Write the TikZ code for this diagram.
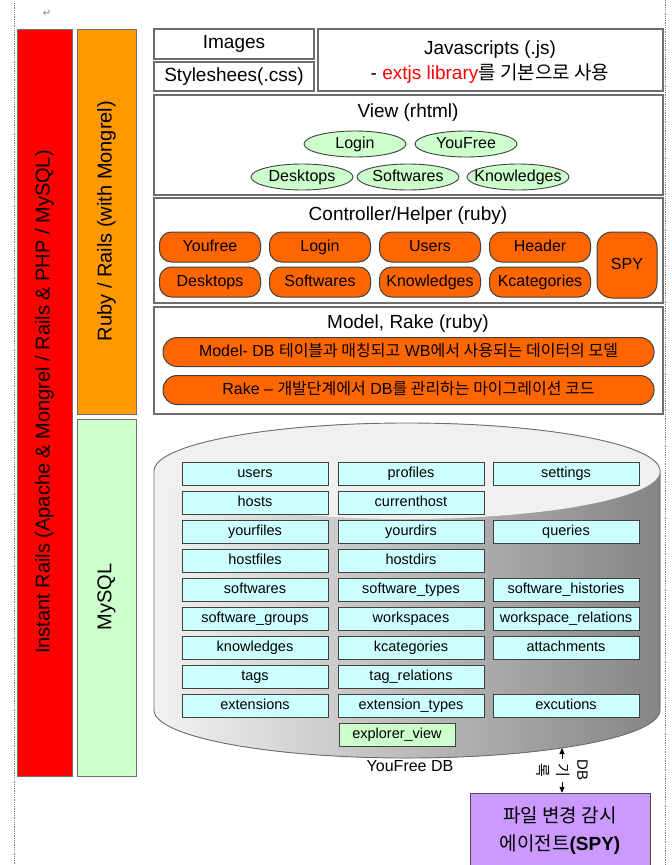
\documentclass[tikz,border=0pt]{standalone}
\usepackage{fontspec}
\setmainfont{Liberation Sans}
\newfontfamily\kr{Noto Sans CJK KR}
\newfontfamily\sym{DejaVu Sans}
\usetikzlibrary{arrows.meta,shapes.geometric}

\definecolor{barred}{HTML}{FF0000}
\definecolor{barorange}{HTML}{FF9900}
\definecolor{ctrlorange}{HTML}{FF6600}
\definecolor{palegreen}{HTML}{CCFFCC}
\definecolor{palecyan}{HTML}{CCFFFF}
\definecolor{spypurple}{HTML}{CC99FF}
\definecolor{edgegray}{HTML}{6E6E6E}

\tikzset{
  layerbox/.style={draw=edgegray, line width=1.5pt},
  sidebar/.style={draw=edgegray, line width=0.9pt},
  sidelabel/.style={rotate=90, font=\fontsize{20}{24}\selectfont},
  title/.style={font=\fontsize{19}{22}\selectfont},
  viewitem/.style={ellipse, draw=black!75, line width=0.9pt, fill=palegreen, minimum width=102pt,
    minimum height=26pt, inner xsep=-8pt, inner ysep=-1pt, text height=11.5pt, text depth=3.5pt,
    font=\fontsize{16}{18}\selectfont},
  ctrlitem/.style={draw=black!75, line width=1pt, fill=ctrlorange, rounded corners=12pt,
    minimum width=101pt, minimum height=30pt, inner sep=0pt, text height=11.5pt, text depth=3.5pt,
    font=\fontsize{16}{18}\selectfont},
  modelbar/.style={draw=black!75, line width=1pt, fill=ctrlorange, rounded corners=14pt,
    minimum width=491pt, minimum height=29pt, inner sep=0pt, text height=12pt, text depth=3pt,
    font=\fontsize{16}{18}\selectfont},
  dbtable/.style={draw=black!75, line width=0.9pt, fill=palecyan, minimum width=146pt,
    minimum height=23pt, inner sep=0pt, text height=10.5pt, text depth=3pt,
    font=\fontsize{14.5}{16}\selectfont},
  dblabel/.style={rotate=-90, fill=white, inner sep=1pt, align=center, font=\fontsize{15}{20}\selectfont},
  spybox/.style={draw=black!70, fill=spypurple, minimum width=180pt, minimum height=76pt,
    inner sep=0pt, align=center, font=\fontsize{19}{28}\selectfont},
  pageedge/.style={densely dotted, gray, line width=0.8pt},
}

\begin{document}
\begin{tikzpicture}[x=1pt, y=-1pt]
    \useasboundingbox (0,0) rectangle (672,865);

    % page edges
    \draw[pageedge] (14,3) -- (14,865);
    \draw[pageedge] (665,0) -- (665,865);
    \node[text=gray, font=\sym\fontsize{10}{12}\selectfont] (retmark) at (47,13) {↵};

    % side bars
    \draw[sidebar, fill=barred] (17,29) rectangle (72,776);
    \draw[sidebar, fill=barorange] (77,29) rectangle (136,414);
    \draw[sidebar, fill=palegreen] (77,419) rectangle (136,776);
    \node[sidelabel] (railslabel) at (44.5,402) {Instant Rails (Apache \& Mongrel / Rails \& PHP / MySQL)};
    \node[sidelabel] (rubylabel) at (106.5,221) {Ruby / Rails (with Mongrel)};
    \node[sidelabel] (mysqllabel) at (106.5,597) {MySQL};

    % static files
    \draw[layerbox] (154,29) rectangle (314,59);
    \draw[layerbox] (154,62) rectangle (314,91);
    \draw[layerbox] (318,29) rectangle (663,91);
    \node[title] (imgtitle) at (234,44) {Images};
    \node[title] (csstitle) at (234,76.5) {Styleshees(.css)};
    \node[title] (jstitle) at (490,50) {Javascripts (.js)};
    \node[title] (jsnote) at (490,74) {- \textcolor{red}{extjs library}{\kr 를 기본으로 사용}};

    % view
    \draw[layerbox] (154,95) rectangle (663,195);
    \node[title] (viewtitle) at (408,113) {View (rhtml)};
    \node[viewitem] (vlogin) at (355,144) {Login};
    \node[viewitem] (vyoufree) at (466,144) {YouFree};
    \node[viewitem] (vdesktops) at (302,177) {Desktops};
    \node[viewitem] (vsoftwares) at (408,177) {Softwares};
    \node[viewitem] (vknowledges) at (518,177) {Knowledges};

    % controller
    \draw[layerbox] (154,198) rectangle (663,303);
    \node[title] (ctrltitle) at (408,216) {Controller/Helper (ruby)};
    \node[ctrlitem] (cyoufree) at (210,247) {Youfree};
    \node[ctrlitem] (clogin) at (320,247) {Login};
    \node[ctrlitem] (cusers) at (430,247) {Users};
    \node[ctrlitem] (cheader) at (540,247) {Header};
    \node[ctrlitem] (cdesktops) at (210,282) {Desktops};
    \node[ctrlitem] (csoftwares) at (320,282) {Softwares};
    \node[ctrlitem] (cknowledges) at (430,282) {Knowledges};
    \node[ctrlitem] (ckcategories) at (540,282) {Kcategories};
    \node[ctrlitem, minimum width=60pt, minimum height=66pt, rounded corners=15pt] (cspy) at (627,265) {SPY};

    % model
    \draw[layerbox] (154,307) rectangle (663,414);
    \node[title] (modeltitle) at (408,324) {Model, Rake (ruby)};
    \node[modelbar] (mmodel) at (408.5,352) {Model- DB {\kr 테이블과 매칭되고} WB{\kr 에서 사용되는 데이터의 모델}};
    \node[modelbar] (mrake) at (408.5,390) {Rake – {\kr 개발단계에서} DB{\kr 를 관리하는 마이그레이션 코드}};

    % database
    \fill[left color=black!5, right color=black!48] (154,471) -- (154,710)
      arc[start angle=180, end angle=360, x radius=253pt, y radius=48pt] -- (660,471)
      arc[start angle=0, end angle=180, x radius=253pt, y radius=48pt] -- cycle;
    \fill[black!6] (407,471) ellipse[x radius=253pt, y radius=48pt];
    \draw[edgegray, line width=0.9pt] (154,471) -- (154,710)
      arc[start angle=180, end angle=360, x radius=253pt, y radius=48pt] -- (660,471)
      arc[start angle=0, end angle=180, x radius=253pt, y radius=48pt] -- cycle;

    \node[dbtable] (tusers) at (255,474) {users};
    \node[dbtable] (tprofiles) at (411,474) {profiles};
    \node[dbtable] (tsettings) at (566,474) {settings};
    \node[dbtable] (thosts) at (255,503) {hosts};
    \node[dbtable] (tcurrenthost) at (411,503) {currenthost};
    \node[dbtable] (tyourfiles) at (255,532) {yourfiles};
    \node[dbtable] (tyourdirs) at (411,532) {yourdirs};
    \node[dbtable] (tqueries) at (566,532) {queries};
    \node[dbtable] (thostfiles) at (255,561) {hostfiles};
    \node[dbtable] (thostdirs) at (411,561) {hostdirs};
    \node[dbtable] (tsoftwares) at (255,590) {softwares};
    \node[dbtable] (tsofttypes) at (411,590) {software\_types};
    \node[dbtable] (tsofthist) at (566,590) {software\_histories};
    \node[dbtable] (tsoftgroups) at (255,619) {software\_groups};
    \node[dbtable] (tworkspaces) at (411,619) {workspaces};
    \node[dbtable] (twsrel) at (566,619) {workspace\_relations};
    \node[dbtable] (tknowledges) at (255,648) {knowledges};
    \node[dbtable] (tkcategories) at (411,648) {kcategories};
    \node[dbtable] (tattachments) at (566,648) {attachments};
    \node[dbtable] (ttags) at (255,677) {tags};
    \node[dbtable] (ttagrel) at (411,677) {tag\_relations};
    \node[dbtable] (textensions) at (255,706) {extensions};
    \node[dbtable] (textypes) at (411,706) {extension\_types};
    \node[dbtable] (texcutions) at (566,706) {excutions};
    \node[dbtable, fill=palegreen, minimum width=116pt] (texplorer) at (397,735) {explorer\_view};
    \node[font=\fontsize{16}{18}\selectfont] (dbname) at (410,766) {YouFree DB};

    % spy agent
    \coordinate (dbport) at (562,748);
    \node[spybox] (spyagent) at (560,831) {{\kr 파일 변경 감시}\\{\kr 에이전트}\textbf{(SPY)}};
    \draw[{Triangle[length=6pt,width=5pt]}-{Triangle[length=6pt,width=5pt]}, line width=0.9pt]
      (dbport) -- node[dblabel] (dblog) {DB\\{\kr 기}\\{\kr 록}} (spyagent.north -| dbport);
\end{tikzpicture}
\end{document}
